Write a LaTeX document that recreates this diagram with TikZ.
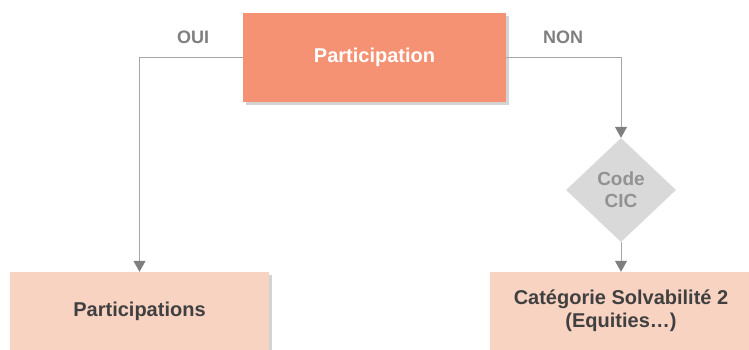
\documentclass[tikz,border=0pt]{standalone}
\usepackage{fontspec}
\setmainfont{Liberation Sans}
\usetikzlibrary{shapes.geometric,arrows.meta,shadows}
\definecolor{salmon}{HTML}{F59273}
\definecolor{peach}{HTML}{F8D3C2}
\definecolor{cicgray}{HTML}{D9D9D9}
\definecolor{linegray}{HTML}{A6A6A6}
\definecolor{tipgray}{HTML}{7F7F7F}
\definecolor{textgray}{HTML}{404040}

\begin{document}
\begin{tikzpicture}[x=1pt,y=-1pt,
  box/.style={rectangle, minimum width=262pt, minimum height=78pt, inner sep=0pt,
    font=\fontsize{20}{23}\selectfont\bfseries, align=center,
    drop shadow={shadow xshift=3pt, shadow yshift=-3pt, opacity=0.35}},
  cic/.style={diamond, fill=cicgray, minimum width=110pt, minimum height=104pt, inner sep=0pt,
    text=tipgray!85, font=\fontsize{19}{22}\selectfont\bfseries, align=center},
  answer/.style={text=tipgray, font=\fontsize{18}{20}\selectfont\bfseries},
  link/.style={draw=linegray, line width=1pt, -{Triangle[width=12pt,length=11pt,color=tipgray]}}]
  \useasboundingbox (0,0) rectangle (749,350);
  \node[box, fill=salmon, text=white, minimum width=263pt, minimum height=89pt] (participation) at (374.5,57.5) {Participation};
  \node[box, fill=peach, text=textgray, minimum width=259pt] (participations) at (139.5,311) {Participations};
  \node[cic] (code) at (621,190) {Code\\CIC};
  \node[box, fill=peach, text=textgray] (solva) at (621,311) {Catégorie Solvabilité 2\\(Equities\ldots)};
  \node[answer] (oui) at (193,37) {OUI};
  \node[answer] (non) at (563,37) {NON};
  \draw[link] (participation.west) -| (participations.north);
  \draw[link] (participation.east) -| (code.north);
  \draw[link] (code.south) -- (solva.north);
\end{tikzpicture}
\end{document}
